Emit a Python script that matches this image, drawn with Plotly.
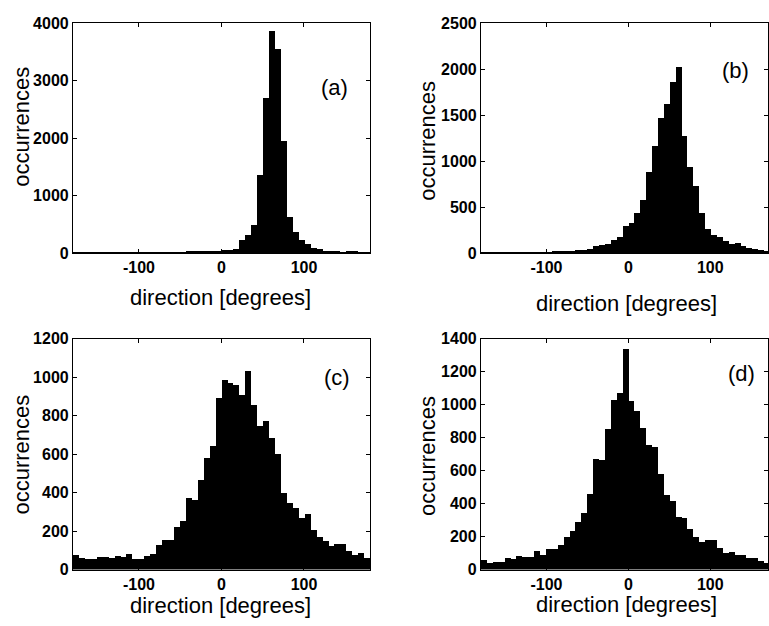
import plotly.graph_objects as go

# bin centres [degrees] (50 bins of 7.2 degrees)
bin_centers = [-176.4, -169.2, -162.0, -154.8, -147.6, -140.4, -133.2, -126.0, -118.8, -111.6,
               -104.4, -97.2, -90.0, -82.8, -75.6, -68.4, -61.2, -54.0, -46.8, -39.6,
               -32.4, -25.2, -18.0, -10.8, -3.6, 3.6, 10.8, 18.0, 25.2, 32.4,
               39.6, 46.8, 54.0, 61.2, 68.4, 75.6, 82.8, 90.0, 97.2, 104.4,
               111.6, 118.8, 126.0, 133.2, 140.4, 147.6, 154.8, 162.0, 169.2, 176.4]

counts_a = [12, 8, 6, 5, 5, 6, 5, 6, 8, 10,
            8, 7, 8, 10, 9, 12, 14, 12, 15, 20,
            22, 25, 22, 28, 40, 50, 55, 60, 232, 305,
            486, 1361, 2700, 3853, 3543, 1944, 627, 356, 220, 147,
            90, 60, 40, 30, 20, 15, 18, 22, 15, 10]

counts_b = [5, 4, 4, 5, 5, 6, 5, 6, 7, 6,
            8, 8, 10, 12, 15, 20, 28, 32, 38, 74,
            85, 95, 141, 169, 296, 325, 437, 575, 878, 1167,
            1467, 1615, 1862, 2024, 1270, 938, 727, 431, 261, 198,
            169, 134, 92, 106, 71, 50, 39, 30, 25, 20]

counts_c = [76, 62, 54, 59, 65, 69, 62, 71, 69, 82,
            57, 57, 71, 82, 129, 157, 157, 225, 254, 374,
            365, 466, 584, 646, 894, 988, 971, 959, 907, 1035,
            857, 749, 774, 685, 601, 399, 348, 323, 268, 292,
            206, 172, 148, 124, 132, 132, 96, 78, 86, 61]

counts_d = [57, 43, 49, 49, 73, 67, 87, 79, 79, 116,
            92, 128, 128, 148, 201, 234, 290, 345, 463, 674,
            668, 853, 1032, 1072, 1342, 1023, 965, 861, 759, 748,
            581, 451, 418, 319, 313, 250, 201, 171, 181, 181,
            132, 102, 108, 89, 89, 73, 69, 53, 39, 30]

panel_labels = ["(a)", "(b)", "(c)", "(d)"]
x_ticks = [-100, 0, 100]
x_tick_text = ["-100", "0", "100"]
y_ticks_a = [0, 1000, 2000, 3000, 4000]
y_ticks_b = [0, 500, 1000, 1500, 2000, 2500]
y_ticks_c = [0, 200, 400, 600, 800, 1000, 1200]
y_ticks_d = [0, 200, 400, 600, 800, 1000, 1200, 1400]
x_title = "direction [degrees]"
y_title = "occurrences"

W, H = 769, 626
FONT = "Liberation Sans, Arial, Helvetica, sans-serif"

def px(x):
    return x / W

def py(y):
    return 1 - y / H

panels = [
    # counts, yticks, ymax, xdomain(px), ydomain(px top,bottom), xrange
    (counts_a, y_ticks_a, 4000, (73, 370.5), (15.7, 252), (-180, 180)),
    (counts_b, y_ticks_b, 2500, (481.5, 769), (15.7, 252), (-180, 170.4)),
    (counts_c, y_ticks_c, 1200, (73, 370.5), (340, 577.3), (-180, 180)),
    (counts_d, y_ticks_d, 1400, (481.5, 769), (340, 577.3), (-180, 170.4)),
]

fig = go.Figure()
layout = dict(
    width=W, height=H,
    margin=dict(l=0, r=0, t=0, b=0),
    paper_bgcolor="white", plot_bgcolor="white",
    showlegend=False,
    bargap=0,
    font=dict(family=FONT, color="black"),
)

for i, (cnts, yt, ymax, xd, yd, xr) in enumerate(panels):
    n = "" if i == 0 else str(i + 1)
    fig.add_trace(go.Bar(
        x=bin_centers, y=cnts, width=7.2,
        marker=dict(color="black", line=dict(width=0)),
        xaxis="x" + n, yaxis="y" + n,
    ))
    axcommon = dict(
        showline=True, linecolor="black", linewidth=1, mirror="ticks",
        ticks="inside", ticklen=4, tickcolor="black", tickwidth=1,
        showgrid=False, zeroline=False,
        tickfont=dict(family=FONT, size=16, color="black", weight="bold"),
    )
    layout["xaxis" + n] = dict(
        axcommon, domain=[px(xd[0]), px(xd[1])], range=list(xr),
        tickvals=x_ticks, ticktext=x_tick_text, anchor="y" + n,
    )
    layout["yaxis" + n] = dict(
        axcommon, domain=[py(yd[1]), py(yd[0])], range=[0, ymax],
        tickvals=yt, ticktext=[str(v) for v in yt], anchor="x" + n,
    )

annotations = []
# panel letters
for lab, (x, y) in zip(panel_labels, [(335, 82), (736, 64), (337, 380), (742, 376)]):
    annotations.append(dict(text=lab, x=px(x), y=py(y), xref="paper", yref="paper",
                            showarrow=False, font=dict(size=22, family=FONT, color="black"),
                            xanchor="center", yanchor="middle"))
# axis titles
for (x, y) in [(221, 297.5), (627, 304), (221, 614), (627.5, 613)]:
    annotations.append(dict(text=x_title, x=px(x), y=py(y), xref="paper", yref="paper",
                            showarrow=False, font=dict(size=22, family=FONT, color="black"),
                            xanchor="center", yanchor="middle"))
for (x, y) in [(22, 122), (428, 136), (22, 459), (428, 460)]:
    annotations.append(dict(text=y_title, x=px(x), y=py(y), xref="paper", yref="paper",
                            showarrow=False, textangle=-90,
                            font=dict(size=22, family=FONT, color="black"),
                            xanchor="center", yanchor="middle"))
layout["annotations"] = annotations

fig.update_layout(**layout)
fig.write_html(
    "out.html",
    config={"displayModeBar": False},
    post_script="document.body.style.margin='0';document.body.style.padding='0';"
                "document.documentElement.style.overflow='hidden';",
)
